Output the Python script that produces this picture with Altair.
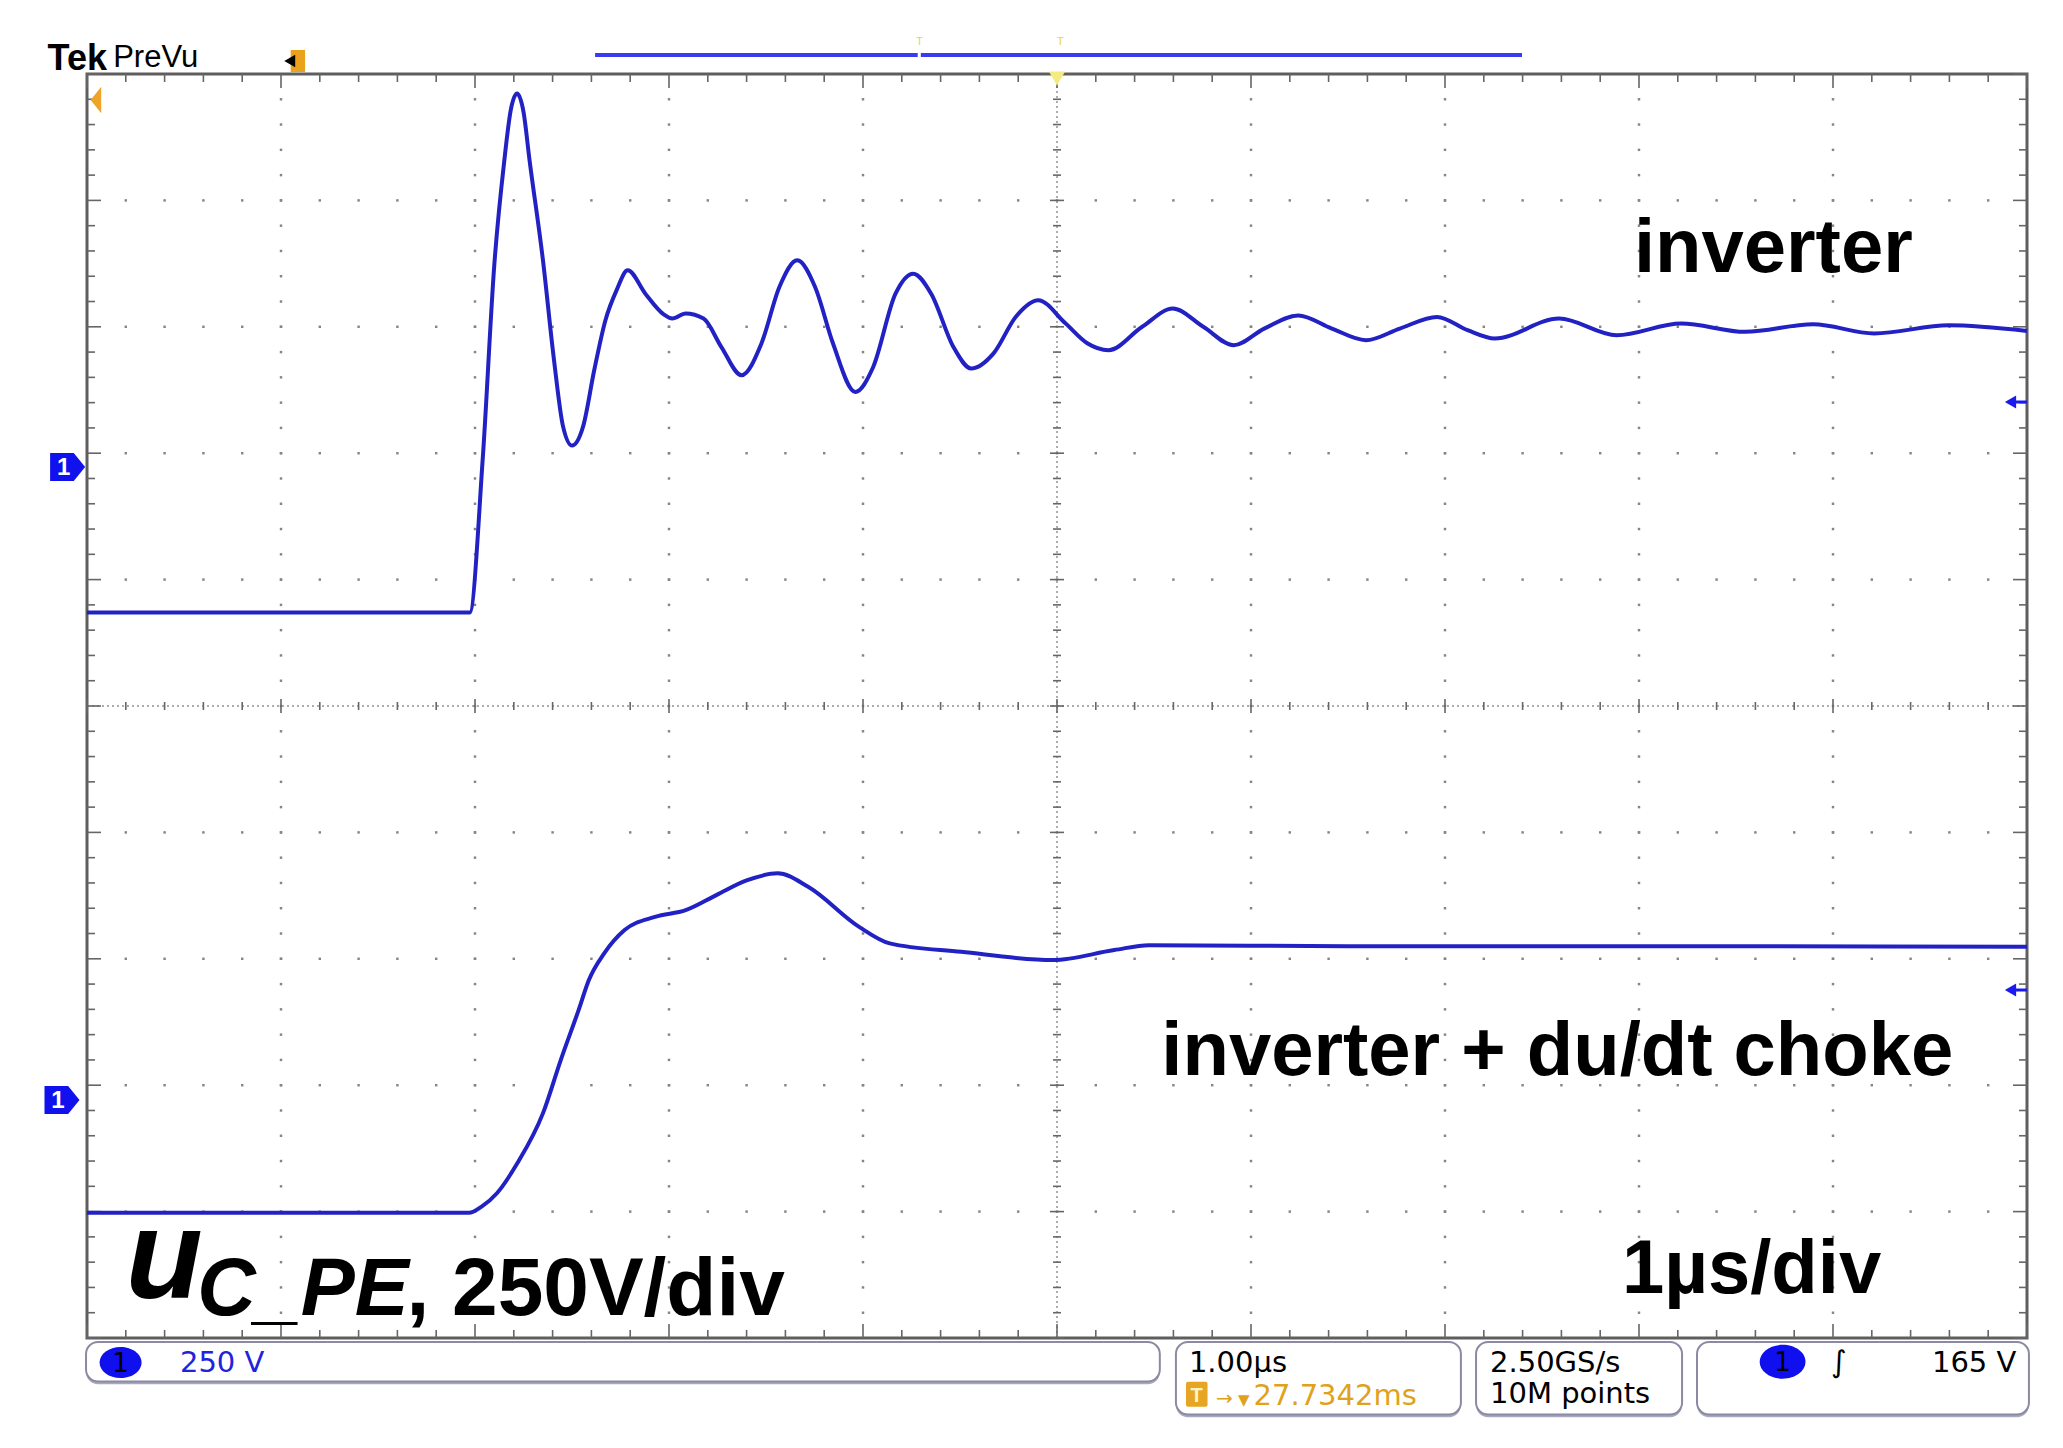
import altair as alt
import numpy as np
import pandas as pd

# ---- Waveform data (x: screen divisions, 1 µs/div; y: screen divisions, 250 V/div) ----
inv_time = [0.0, 1.973, 2.04, 2.10, 2.15, 2.185, 2.217, 2.25, 2.281, 2.35,
            2.407, 2.454, 2.50, 2.557, 2.615, 2.672, 2.73, 2.787, 2.879, 2.971,
            3.017, 3.086, 3.178, 3.27, 3.374, 3.477, 3.569, 3.661, 3.753, 3.845,
            3.96, 4.052, 4.167, 4.259, 4.352, 4.466, 4.558, 4.673, 4.788, 4.903,
            5.042, 5.156, 5.265, 5.439, 5.597, 5.754, 5.911, 6.068, 6.243, 6.417,
            6.592, 6.767, 6.959, 7.116, 7.256, 7.588, 7.885, 8.217, 8.548, 8.898,
            9.212, 9.597, 10.0]
inv_level = [5.74, 5.74, 6.96, 8.50, 9.30, 9.72, 9.845, 9.70, 9.32, 8.53,
             7.74, 7.21, 7.06, 7.21, 7.66, 8.05, 8.29, 8.447, 8.26, 8.10,
             8.065, 8.105, 8.065, 7.84, 7.617, 7.87, 8.315, 8.526, 8.315, 7.87,
             7.485, 7.68, 8.26, 8.42, 8.26, 7.84, 7.67, 7.79, 8.08, 8.21,
             8.03, 7.87, 7.815, 8.0, 8.144, 8.0, 7.854, 7.986, 8.09, 7.986,
             7.894, 7.986, 8.078, 7.973, 7.907, 8.065, 7.933, 8.026, 7.96, 8.02,
             7.947, 8.012, 7.967]

choke_time = [0.0, 1.969, 2.034, 2.113, 2.218, 2.35, 2.442, 2.534, 2.587, 2.666,
              2.771, 2.928, 3.086, 3.244, 3.40, 3.56, 3.717, 3.98, 4.138, 4.506,
              4.979, 5.295, 5.474, 6.5, 8.0, 10.0]
choke_level = [0.99, 0.99, 1.039, 1.145, 1.382, 1.777, 2.199, 2.594, 2.832, 3.043,
               3.227, 3.332, 3.385, 3.504, 3.62, 3.676, 3.57, 3.253, 3.122, 3.055,
               2.99, 3.069, 3.108, 3.10, 3.10, 3.095]

assert len(inv_time) == len(inv_level)
assert len(choke_time) == len(choke_level)

# ---- Layout ----
W, H = 1940, 1264
PXX = W / 10.0   # px per horizontal division
PXY = H / 10.0   # px per vertical division

xs = alt.Scale(domain=[0, 10], nice=False, zero=False)
ys = alt.Scale(domain=[0, 10], nice=False, zero=False)


def X(f):
    return alt.X(f, type="quantitative", scale=xs, axis=None)


def Y(f):
    return alt.Y(f, type="quantitative", scale=ys, axis=None)


FONT = "Liberation Sans, Arial, Helvetica, sans-serif"
SCOPE_FONT = "DejaVu Sans, Verdana, sans-serif"

# ---- Graticule: dotted grid ----
minor = np.round(np.arange(1, 50) * 0.2, 4)
dots = []
for k in [1, 2, 3, 4, 6, 7, 8, 9]:
    for m in minor:
        dots.append({"x": float(k), "y": float(m)})
        dots.append({"x": float(m), "y": float(k)})
dots_df = pd.DataFrame(dots)
grid = alt.Chart(dots_df).mark_square(size=6, color="#858585", opacity=1).encode(
    x=X("x"), y=Y("y"))

# center lines
center_df = pd.DataFrame([
    {"x": 0.0, "x2": 10.0, "y": 5.0, "y2": 5.0},
    {"x": 5.0, "x2": 5.0, "y": 0.0, "y2": 10.0},
])
center = alt.Chart(center_df).mark_rule(color="#929292", strokeWidth=1.5, strokeDash=[2, 3]).encode(
    x=X("x"), x2="x2", y=Y("y"), y2="y2")

# ticks on frame and center lines
pos = np.round(np.arange(0, 51) * 0.2, 4)
ticks = []
for p in pos:
    major = abs(p - round(p)) < 1e-6
    le = (14 if major else 8)
    lc = (7 if major else 4)
    ticks.append({"x": p, "x2": p, "y": 10.0, "y2": 10.0 - le / PXY})
    ticks.append({"x": p, "x2": p, "y": 0.0, "y2": le / PXY})
    ticks.append({"x": 0.0, "x2": le / PXX, "y": p, "y2": p})
    ticks.append({"x": 10.0, "x2": 10.0 - le / PXX, "y": p, "y2": p})
    ticks.append({"x": p, "x2": p, "y": 5.0 - lc / PXY, "y2": 5.0 + lc / PXY})
    ticks.append({"x": 5.0 - lc / PXX, "x2": 5.0 + lc / PXX, "y": p, "y2": p})
ticks_df = pd.DataFrame(ticks)
tick_layer = alt.Chart(ticks_df).mark_rule(color="#666666", strokeWidth=1.6).encode(
    x=X("x"), x2="x2", y=Y("y"), y2="y2")

# ---- Traces ----
trace_df = pd.concat([
    pd.DataFrame({"t": inv_time, "v": inv_level, "s": "inverter"}),
    pd.DataFrame({"t": choke_time, "v": choke_level, "s": "inverter + du/dt choke"}),
])
traces = alt.Chart(trace_df).mark_line(
    interpolate="monotone", color="#2222c4", strokeWidth=4, strokeJoin="round"
).encode(x=X("t"), y=Y("v"), detail="s:N")


# ---- Text helpers ----
def text_layer(rows, **kw):
    df = pd.DataFrame(rows, columns=["label", "x", "y"])
    base = dict(align="left", baseline="alphabetic")
    base.update(kw)
    return alt.Chart(df).mark_text(**base).encode(x=X("x"), y=Y("y"), text="label:N")


big_labels = text_layer(
    [("inverter", 7.974, 8.436),
     ("inverter + du/dt choke", 5.538, 2.081),
     ("1µs/div", 7.912, 0.354)],
    font=FONT, fontSize=76, fontWeight="bold", color="black")

u_label = text_layer([("u", 0.200, 0.314)], font=FONT, fontSize=126,
                     fontWeight="bold", fontStyle="italic", color="black")
sub_label = text_layer([("C_PE", 0.568, 0.182)], font=FONT, fontSize=81,
                       fontWeight="bold", fontStyle="italic", color="black")
scale_label = text_layer([(", 250V/div", 1.647, 0.182)], font=FONT, fontSize=82,
                         fontWeight="bold", color="black")

# ---- Header (above graticule) ----
tek = text_layer([("Tek", -0.203, 10.032)], font=FONT, fontSize=36, fontWeight="bold", color="black")
prevu = text_layer([("PreVu", 0.135, 10.055)], font=FONT, fontSize=31, color="black")

hdr_rect = alt.Chart(pd.DataFrame([{"x": 1.05, "x2": 1.124, "y": 10.016, "y2": 10.19}])).mark_rect(
    color="#eaa21a").encode(x=X("x"), x2="x2", y=Y("y"), y2="y2")
hdr_tri = alt.Chart(pd.DataFrame([{"x": 1.045, "y": 10.103}])).mark_point(
    shape="triangle-left", filled=True, color="black", size=160, opacity=1).encode(x=X("x"), y=Y("y"))

rec_bar = alt.Chart(pd.DataFrame([
    {"x": 2.619, "x2": 4.282, "y": 10.15, "y2": 10.15},
    {"x": 4.298, "x2": 7.397, "y": 10.15, "y2": 10.15},
])).mark_rule(color="#3a3aee", strokeWidth=4).encode(x=X("x"), x2="x2", y=Y("y"), y2="y2")

yellow_marks = text_layer([("T", 4.275, 10.23), ("T", 5.0, 10.23)], font=FONT, fontSize=11,
                          color="#e8d640")

trig = alt.Chart(pd.DataFrame([{"x": 5.0, "y": 9.965}])).mark_point(
    shape="triangle-down", filled=True, color="#f4ec82", size=260, opacity=1).encode(x=X("x"), y=Y("y"))

orange_arrow = alt.Chart(pd.DataFrame([{"x": 0.046, "y": 9.794}])).mark_point(
    shape="M-0.4,0L0.4,-1L0.4,1Z", filled=True, color="#eea428", size=700, opacity=1
).encode(x=X("x"), y=Y("y"))

# ---- Channel ground markers (left) ----
gnd_df = pd.DataFrame([{"x": -0.100, "y": 6.89}, {"x": -0.129, "y": 1.883}])
gnd = alt.Chart(gnd_df).mark_point(
    shape="M-1,-0.8L0.35,-0.8L1,0L0.35,0.8L-1,0.8Z", filled=True, color="#1111ee",
    size=1225, opacity=1).encode(x=X("x"), y=Y("y"))
gnd_txt = alt.Chart(gnd_df).mark_text(
    text="1", font=FONT, fontSize=24, fontWeight="bold", color="white", dx=-4, dy=1,
    align="center", baseline="middle").encode(x=X("x"), y=Y("y"))

# ---- Right-side arrows ----
arrow_df = pd.DataFrame([{"x": 9.915, "x2": 10.0, "y": 7.405, "y2": 7.405},
                         {"x": 9.915, "x2": 10.0, "y": 2.753, "y2": 2.753}])
arrow_line = alt.Chart(arrow_df).mark_rule(color="#1a1aee", strokeWidth=3).encode(
    x=X("x"), x2="x2", y=Y("y"), y2="y2")
arrow_head = alt.Chart(arrow_df).mark_point(
    shape="triangle-left", filled=True, color="#1a1aee", size=170, opacity=1).encode(
    x=X("x"), y=Y("y"))

# ---- Status bar ----
boxes_df = pd.DataFrame([
    {"x": -0.005, "x2": 5.530, "y": -0.032, "y2": -0.344},
    {"x": 5.613, "x2": 7.082, "y": -0.032, "y2": -0.605},
    {"x": 7.160, "x2": 8.222, "y": -0.032, "y2": -0.605},
    {"x": 8.299, "x2": 10.010, "y": -0.032, "y2": -0.605},
])
shadow_df = boxes_df.assign(y=boxes_df["y"] - 0.022, y2=boxes_df["y2"] - 0.022)
box_shadow = alt.Chart(shadow_df).mark_rect(cornerRadius=12, fill="#a9a9bd").encode(
    x=X("x"), x2="x2", y=Y("y"), y2="y2")
boxes = alt.Chart(boxes_df).mark_rect(
    cornerRadius=12, fill="white", stroke="#8a8aa2", strokeWidth=2).encode(
    x=X("x"), x2="x2", y=Y("y"), y2="y2")

ell_df = pd.DataFrame([{"x": 0.173, "y": -0.194, "s": 1764}, {"x": 8.74, "y": -0.188, "s": 2100}])
ellipses = alt.Chart(ell_df).mark_point(
    shape="M-1,0A1,0.74,0,1,0,1,0A1,0.74,0,1,0,-1,0Z", filled=True, color="#1010ee", opacity=1
).encode(x=X("x"), y=Y("y"), size=alt.Size("s:Q", scale=None, legend=None))
ell_txt = alt.Chart(ell_df).mark_text(
    text="1", font=SCOPE_FONT, fontSize=26, color="black", align="center", baseline="middle", dy=1
).encode(x=X("x"), y=Y("y"))

st_blue = text_layer([("250 V", 0.479, -0.267)], font=SCOPE_FONT, fontSize=29, color="#2222dd")
st_black = text_layer([("1.00µs", 5.68, -0.267), ("2.50GS/s", 7.232, -0.267),
                       ("10M points", 7.232, -0.514), ("165 V", 9.51, -0.267)],
                      font=SCOPE_FONT, fontSize=29, color="black")
st_edge = text_layer([("∫", 8.99, -0.267)], font=SCOPE_FONT, fontSize=30, fontStyle="italic",
                     color="black")
st_orange = text_layer([("27.7342ms", 6.013, -0.53)], font=SCOPE_FONT, fontSize=29, color="#e0a21a")
st_arrow = text_layer([("→", 5.82, -0.53)], font=SCOPE_FONT, fontSize=20, color="#e0a21a")
st_tri = text_layer([("▼", 5.933, -0.53)], font=SCOPE_FONT, fontSize=15, color="#e0a21a")
t_icon = alt.Chart(pd.DataFrame([{"x": 5.665, "x2": 5.776, "y": -0.346, "y2": -0.544}])).mark_rect(
    color="#e6a623", cornerRadius=2).encode(x=X("x"), x2="x2", y=Y("y"), y2="y2")
t_icon_txt = text_layer([("T", 5.688, -0.51)], font=FONT, fontSize=20, fontWeight="bold", color="#fff3c8")

chart = alt.layer(
    grid, center, tick_layer,
    traces,
    big_labels, u_label, sub_label, scale_label,
    tek, prevu, hdr_rect, hdr_tri, rec_bar, yellow_marks, trig, orange_arrow,
    gnd, gnd_txt, arrow_line, arrow_head,
    box_shadow, boxes, ellipses, ell_txt,
    st_blue, st_black, st_edge, st_orange, st_arrow, st_tri, t_icon, t_icon_txt,
).properties(
    width=W, height=H,
    autosize=alt.AutoSizeParams(type="none"),
    padding={"left": 79, "top": 66, "right": 20, "bottom": 90},
    background="white",
).configure_view(stroke="#5e5e5e", strokeWidth=3)

chart.save("out.html", embed_options={"renderer": "svg", "actions": False})
